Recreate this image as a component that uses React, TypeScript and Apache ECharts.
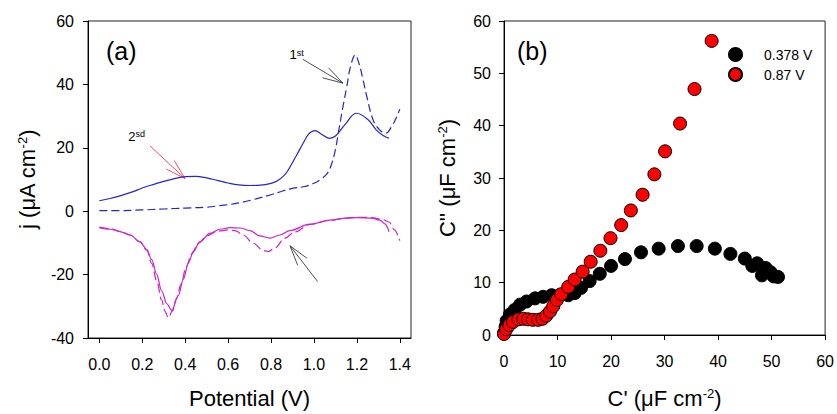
import React, { useEffect, useRef } from "react";
import * as echarts from "echarts";

const FONT = "'Liberation Sans', Arial, sans-serif";

// ---------- Panel (a): cyclic voltammograms ----------
// 2nd cycle, anodic (blue solid)
const A2_ANODIC_X = [0, 0.05, 0.1, 0.15, 0.2, 0.25, 0.3, 0.35, 0.4, 0.45, 0.5, 0.55, 0.6, 0.65, 0.7, 0.75, 0.8, 0.83, 0.86, 0.88, 0.92, 0.95, 0.975, 1.004, 1.035, 1.071, 1.1, 1.15, 1.198, 1.25, 1.291, 1.322, 1.35];
const A2_ANODIC_Y = [3.3, 4.0, 4.9, 6.0, 7.3, 8.4, 9.4, 10.3, 10.9, 11.0, 10.5, 9.7, 8.9, 8.3, 8.1, 8.2, 8.8, 9.6, 11.2, 13.0, 17.8, 21.5, 24.3, 25.4, 24.3, 23.0, 23.7, 27.8, 30.9, 29.0, 25.6, 23.9, 23.0];
// 1st cycle, anodic (blue dashed)
const A1_ANODIC_X = [0, 0.1, 0.2, 0.3, 0.4, 0.5, 0.58, 0.65, 0.73, 0.8, 0.85, 0.9, 0.95, 1.0, 1.03, 1.06, 1.08, 1.1, 1.117, 1.135, 1.152, 1.17, 1.192, 1.21, 1.23, 1.245, 1.276, 1.307, 1.335, 1.36, 1.38, 1.4];
const A1_ANODIC_Y = [0.2, 0.2, 0.4, 0.7, 1.0, 1.3, 1.9, 2.6, 3.9, 5.2, 6.3, 7.2, 7.7, 8.8, 10.0, 11.8, 14.5, 19.5, 26.1, 33.0, 39.0, 45.5, 49.3, 46.5, 41.0, 36.5, 28.7, 25.6, 24.6, 26.5, 29.0, 32.2];
// 2nd cycle, cathodic (magenta solid)
const A2_CATHODIC_X = [0, 0.05, 0.1, 0.143, 0.189, 0.221, 0.244, 0.267, 0.29, 0.314, 0.337, 0.368, 0.391, 0.415, 0.438, 0.469, 0.515, 0.562, 0.609, 0.655, 0.702, 0.748, 0.795, 0.841, 0.888, 0.981, 1.074, 1.15, 1.2, 1.27, 1.307, 1.33, 1.35];
const A2_CATHODIC_Y = [-5.2, -5.7, -6.5, -7.5, -9.6, -12.1, -15.3, -19.9, -25.1, -29.2, -31.3, -26.6, -21.5, -16.3, -12.7, -9.6, -7.0, -5.7, -5.2, -5.3, -6.1, -7.8, -8.5, -7.5, -6.1, -4.1, -2.8, -2.2, -2.0, -2.2, -2.8, -4.0, -6.5];
// 1st cycle, cathodic (magenta dashed)
const A1_CATHODIC_X = [0, 0.05, 0.1, 0.143, 0.189, 0.221, 0.244, 0.267, 0.29, 0.305, 0.321, 0.34, 0.36, 0.38, 0.405, 0.43, 0.46, 0.5, 0.55, 0.6, 0.635, 0.67, 0.717, 0.764, 0.787, 0.818, 0.864, 0.911, 0.981, 1.074, 1.15, 1.2, 1.27, 1.32, 1.35, 1.375, 1.4];
const A1_CATHODIC_Y = [-5.0, -5.5, -6.4, -7.5, -9.7, -12.3, -16.5, -22, -28, -31.5, -33.6, -31.5, -27.5, -23, -17.5, -13.5, -10.2, -7.8, -6.3, -5.9, -6.2, -7.5, -10.1, -12.4, -12.7, -11.6, -8.5, -6.5, -4.2, -2.9, -2.2, -1.9, -2.0, -2.6, -3.4, -5.9, -9.3];

const A_X_TICKS = [0, 0.2, 0.4, 0.6, 0.8, 1.0, 1.2, 1.4];

// annotation arrows (data coordinates: start -> tip)
const ARROW_X0 = [0.948, 0.236, 1.017];
const ARROW_Y0 = [47.9, 20.6, -22.2];
const ARROW_X1 = [1.135, 0.399, 0.888];
const ARROW_Y1 = [40.4, 10.3, -10.9];
const ARROW_MAIN = ["1", "2", ""];
const ARROW_SUP = ["st", "sd", ""];

// styling for arrows / their labels (not data)
const ARROW_COLORS = ["#3a3a3a", "#ff3b3b", "#3a3a3a"];
const LABEL_DX = [1, -5, 0];
const LABEL_DY = [2, -3, 0];

// ---------- Panel (b): Nyquist capacitance plots ----------
const B_SERIES_NAMES = ["0.378 V", "0.87 V"];
const B1_X = [0, 0.1, 0.3, 0.5, 1.1, 2.0, 3.0, 4.2, 5.8, 7.3, 8.9, 10.4, 12.0, 13.2, 14.4, 16.0, 17.9, 20.0, 22.6, 25.6, 28.9, 32.5, 36.0, 39.4, 42.3, 45.0, 46.4, 47.3, 48.2, 48.9, 49.8, 50.4, 51.2];
const B1_Y = [0.3, 0.5, 1.6, 2.7, 3.9, 4.8, 5.8, 6.4, 7.0, 7.3, 7.6, 7.6, 7.6, 8.0, 9.0, 10.3, 11.7, 13.2, 14.5, 15.8, 16.5, 17.0, 17.0, 16.5, 15.5, 14.6, 13.2, 13.7, 11.4, 12.8, 12.0, 11.2, 11.1];
const B2_X = [0, 0.4, 1.0, 1.7, 2.7, 3.6, 4.5, 5.4, 6.4, 7.2, 7.9, 8.6, 9.2, 9.9, 10.7, 12.0, 13.2, 14.7, 16.2, 18.0, 19.9, 21.9, 23.7, 25.9, 28.1, 30.1, 32.9, 35.6, 38.8];
const B2_Y = [0.2, 1.1, 1.9, 2.5, 3.0, 3.1, 3.0, 2.9, 2.9, 3.1, 3.7, 4.5, 5.5, 6.7, 7.8, 9.2, 10.6, 12.1, 14.0, 16.1, 18.5, 21.0, 23.8, 26.8, 30.7, 35.1, 40.4, 47.0, 56.2];

const zip = (xs: number[], ys: number[]) => xs.map((x, i) => [x, ys[i]]);

const BLUE = "#2424d2";
const MAGENTA = "#cc22cc";

export default function App() {
  const ref = useRef<HTMLDivElement>(null);

  useEffect(() => {
    if (!ref.current) return;
    const chart = echarts.init(ref.current, undefined, { renderer: "svg" });

    const axisLine = { show: true, onZero: false, lineStyle: { color: "#000", width: 1 } };
    const tickStyle = { lineStyle: { color: "#000", width: 1 } };
    const labelBase = { color: "#000", fontSize: 16, fontFamily: FONT };
    const nameStyle = {
      color: "#000",
      fontSize: 22,
      fontFamily: FONT,
      rich: { sup: { fontSize: 13, fontFamily: FONT, color: "#000", verticalAlign: "top" } },
    };
    const blueCurve = { showSymbol: false, smooth: 0.4, xAxisIndex: 0, yAxisIndex: 0 };
    const magentaCurve = { showSymbol: false, smooth: 0.35, smoothMonotone: "x", xAxisIndex: 0, yAxisIndex: 0 };

    const option: any = {
      animation: false,
      backgroundColor: "#fff",
      textStyle: { fontFamily: FONT },
      grid: [
        { left: 88, top: 21, width: 323, height: 322, show: true, borderColor: "#222", borderWidth: 1, backgroundColor: "transparent" },
        { left: 504, top: 21, width: 323, height: 322, show: true, borderColor: "#222", borderWidth: 1, backgroundColor: "transparent" },
      ],
      xAxis: [
        {
          gridIndex: 0,
          type: "value",
          min: -0.053,
          max: 1.452,
          axisLine,
          axisTick: { show: true, length: 5, customValues: A_X_TICKS, ...tickStyle },
          axisLabel: { ...labelBase, margin: 18, customValues: A_X_TICKS, formatter: (v: number) => v.toFixed(1) },
          splitLine: { show: false },
          name: "Potential (V)",
          nameLocation: "middle",
          nameGap: 49,
          nameTextStyle: nameStyle,
        },
        {
          gridIndex: 1,
          type: "value",
          min: 0,
          max: 60,
          interval: 10,
          axisLine,
          axisTick: { show: true, length: 5, ...tickStyle },
          axisLabel: { ...labelBase, margin: 18 },
          splitLine: { show: false },
          name: "C' (μF cm{sup|-2})",
          nameLocation: "middle",
          nameGap: 52,
          nameTextStyle: nameStyle,
        },
      ],
      yAxis: [
        {
          gridIndex: 0,
          type: "value",
          min: -40,
          max: 60,
          interval: 20,
          axisLine,
          axisTick: { show: true, length: 5, ...tickStyle },
          axisLabel: { ...labelBase, margin: 14 },
          splitLine: { show: false },
          name: "j (μA cm{sup|-2})",
          nameLocation: "middle",
          nameGap: 50,
          nameTextStyle: nameStyle,
        },
        {
          gridIndex: 1,
          type: "value",
          min: 0,
          max: 60,
          interval: 10,
          axisLine,
          axisTick: { show: true, length: 5, ...tickStyle },
          axisLabel: { ...labelBase, margin: 13 },
          splitLine: { show: false },
          name: "C'' (μF cm{sup|-2})",
          nameLocation: "middle",
          nameGap: 46,
          nameTextStyle: nameStyle,
        },
      ],
      legend: {
        data: B_SERIES_NAMES,
        orient: "vertical",
        left: 723,
        top: 42,
        itemWidth: 13,
        itemHeight: 13,
        itemGap: 5,
        icon: "circle",
        selectedMode: false,
        textStyle: { fontSize: 14, color: "#000", fontFamily: FONT, padding: [0, 0, 0, 17] },
      },
      graphic: [
        { type: "text", left: 106, top: 38, style: { text: "(a)", fontSize: 25, fontFamily: FONT, fill: "#000" } },
        { type: "text", left: 517, top: 38, style: { text: "(b)", fontSize: 25, fontFamily: FONT, fill: "#000" } },
      ],
      series: [
        {
          type: "line",
          name: "2nd anodic",
          ...blueCurve,
          data: zip(A2_ANODIC_X, A2_ANODIC_Y),
          lineStyle: { color: BLUE, width: 1.2 },
        },
        {
          type: "line",
          name: "1st anodic",
          ...blueCurve,
          data: zip(A1_ANODIC_X, A1_ANODIC_Y),
          lineStyle: { color: BLUE, width: 1.2, type: [8, 4] },
        },
        {
          type: "line",
          name: "2nd cathodic",
          ...magentaCurve,
          data: zip(A2_CATHODIC_X, A2_CATHODIC_Y),
          lineStyle: { color: MAGENTA, width: 1.2 },
        },
        {
          type: "line",
          name: "1st cathodic",
          ...magentaCurve,
          data: zip(A1_CATHODIC_X, A1_CATHODIC_Y),
          lineStyle: { color: MAGENTA, width: 1.2, type: [9, 4] },
        },
        {
          type: "custom",
          name: "arrows",
          xAxisIndex: 0,
          yAxisIndex: 0,
          silent: true,
          clip: false,
          data: ARROW_X0.map((x, i) => [x, ARROW_Y0[i], ARROW_X1[i], ARROW_Y1[i]]),
          encode: { x: [0, 2], y: [1, 3] },
          renderItem: (params: any, api: any) => {
            const i = params.dataIndex;
            const s = api.coord([api.value(0), api.value(1)]);
            const e = api.coord([api.value(2), api.value(3)]);
            const ang = Math.atan2(e[1] - s[1], e[0] - s[0]);
            const L = 21;
            const sp = 0.28;
            const b1 = [e[0] - L * Math.cos(ang - sp), e[1] - L * Math.sin(ang - sp)];
            const b2 = [e[0] - L * Math.cos(ang + sp), e[1] - L * Math.sin(ang + sp)];
            const color = ARROW_COLORS[i];
            const ls = { stroke: color, lineWidth: 0.9 };
            const children: any[] = [
              { type: "line", shape: { x1: s[0], y1: s[1], x2: e[0], y2: e[1] }, style: ls },
              { type: "line", shape: { x1: b1[0], y1: b1[1], x2: e[0], y2: e[1] }, style: ls },
              { type: "line", shape: { x1: b2[0], y1: b2[1], x2: e[0], y2: e[1] }, style: ls },
            ];
            if (ARROW_MAIN[i]) {
              children.push({
                type: "text",
                x: s[0] + LABEL_DX[i],
                y: s[1] + LABEL_DY[i],
                style: {
                  text: `${ARROW_MAIN[i]}{sup|${ARROW_SUP[i]}}`,
                  fontSize: 13,
                  fontFamily: FONT,
                  fill: "#000",
                  align: "right",
                  verticalAlign: "bottom",
                  rich: { sup: { fontSize: 9, fontFamily: FONT, fill: "#000", verticalAlign: "top" } },
                },
              });
            }
            return { type: "group", children };
          },
        },
        {
          type: "scatter",
          name: B_SERIES_NAMES[0],
          xAxisIndex: 1,
          yAxisIndex: 1,
          data: zip(B1_X, B1_Y),
          symbol: "circle",
          symbolSize: 13,
          itemStyle: { color: "#000", borderColor: "#000", borderWidth: 1, opacity: 1 },
        },
        {
          type: "scatter",
          name: B_SERIES_NAMES[1],
          xAxisIndex: 1,
          yAxisIndex: 1,
          data: zip(B2_X, B2_Y),
          symbol: "circle",
          symbolSize: 13,
          itemStyle: { color: "#ff0000", borderColor: "#000", borderWidth: 1, opacity: 1 },
        },
      ],
    };

    chart.setOption(option);
    return () => chart.dispose();
  }, []);

  return (
    <div
      ref={ref}
      style={{ position: "absolute", left: 0, top: 0, width: 837, height: 414, background: "#fff" }}
    />
  );
}
